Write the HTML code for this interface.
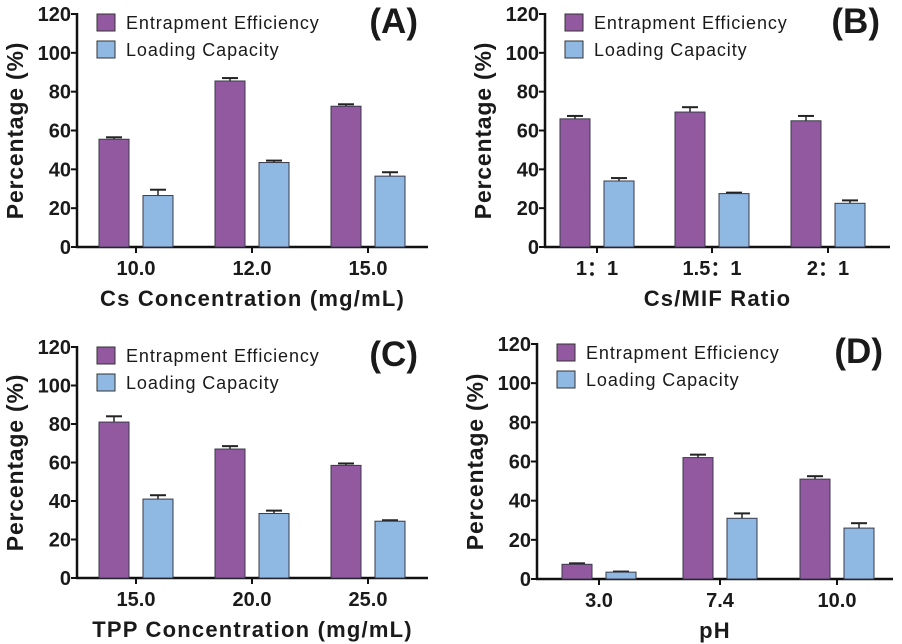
<!DOCTYPE html><html><head><style>body{margin:0;background:#fff}svg{display:block}text{font-family:"Liberation Sans",Arial,sans-serif;font-weight:bold;fill:#1a1a1a}</style></head><body>
<svg id="s" width="902" height="644" viewBox="0 0 902 644" xmlns="http://www.w3.org/2000/svg"></svg>
<script>
var P=[
{ox:77,y0:247,yt:14,t:[136,252,368],xe:428,lab:"(A)",xl:"Cs Concentration (mg/mL)",cats:["10.0","12.0","15.0"],ee:[[55.5,1],[85.5,1.5],[72.5,1]],lc:[[26.5,3],[43.5,1],[36.5,2]]},
{ox:545,y0:247,yt:14,t:[597,712,828],xe:890,lab:"(B)",xl:"Cs/MIF Ratio",cats:["1\uFF1A1","1.5\uFF1A1","2\uFF1A1"],ee:[[66,1.5],[69.5,2.5],[65,2.5]],lc:[[34,1.5],[27.5,0.5],[22.5,1.5]]},
{ox:77,y0:578,yt:347,t:[136,252,368],xe:428,lab:"(C)",xl:"TPP Concentration (mg/mL)",cats:["15.0","20.0","25.0"],ee:[[81,3],[67,1.5],[58.5,1]],lc:[[41,2],[33.5,1.5],[29.5,0.5]]},
{ox:537,y0:579,yt:344,t:[599,720,837],xe:893,lab:"(D)",xl:"pH",cats:["3.0","7.4","10.0"],ee:[[7.5,0.5],[62,1.5],[51,1.5]],lc:[[3.5,0.3],[31,2.5],[26,2.5]]}];
var h="";
P.forEach(function(p){
var sc=(p.y0-p.yt)/120;function Y(v){return p.y0-v*sc}
h+='<line x1="'+p.ox+'" y1="'+(p.yt-1)+'" x2="'+p.ox+'" y2="'+(p.y0+1)+'" stroke="#111" stroke-width="2.5"/>';
h+='<line x1="'+(p.ox-1)+'" y1="'+p.y0+'" x2="'+p.xe+'" y2="'+p.y0+'" stroke="#111" stroke-width="2.5"/>';
for(var v=0;v<=120;v+=20){var y=Y(v);h+='<line x1="'+(p.ox-6)+'" y1="'+y+'" x2="'+p.ox+'" y2="'+y+'" stroke="#111" stroke-width="2"/>';h+='<text x="'+(p.ox-6)+'" y="'+(y+7)+'" font-size="20" text-anchor="end">'+v+'</text>';}
p.t.forEach(function(x,i){
h+='<line x1="'+x+'" y1="'+p.y0+'" x2="'+x+'" y2="'+(p.y0+6)+'" stroke="#111" stroke-width="2"/>';
h+='<text x="'+x+'" y="'+(p.y0+28)+'" font-size="20" text-anchor="middle">'+p.cats[i]+'</text>';
[[p.ee[i],x-37,"#9359a0"],[p.lc[i],x+7,"#8fb8e3"]].forEach(function(b){
var v=b[0][0],e=b[0][1],yt=Y(v),ye=Y(v+e),cx=b[1]+15;
h+='<line x1="'+cx+'" y1="'+yt+'" x2="'+cx+'" y2="'+ye+'" stroke="#222" stroke-width="1.5"/><line x1="'+(cx-8)+'" y1="'+ye+'" x2="'+(cx+8)+'" y2="'+ye+'" stroke="#222" stroke-width="2"/>';
h+='<rect x="'+b[1]+'" y="'+yt+'" width="30" height="'+(p.y0-yt)+'" fill="'+b[2]+'" stroke="#3a3a4a" stroke-width="1"/>';});
});
var mx=(p.ox+p.xe)/2;
h+='<text x="'+mx+'" y="'+(p.y0+59)+'" font-size="22" letter-spacing="1.2" text-anchor="middle">'+p.xl+'</text>';
var cy=(p.y0+p.yt)/2,lx=p.ox-54;
h+='<text transform="translate('+lx+','+cy+') rotate(-90)" font-size="23" letter-spacing="0.8" text-anchor="middle">Percentage (%)</text>';
var lgx=p.ox+20,lgy=p.yt;
h+='<rect x="'+lgx+'" y="'+lgy+'" width="18" height="17" fill="#9359a0" stroke="#333"/><text x="'+(lgx+29)+'" y="'+(lgy+15)+'" font-size="18" letter-spacing="0.9" style="font-weight:normal">Entrapment Efficiency</text>';
h+='<rect x="'+lgx+'" y="'+(lgy+27)+'" width="18" height="17" fill="#8fb8e3" stroke="#333"/><text x="'+(lgx+29)+'" y="'+(lgy+42)+'" font-size="18" letter-spacing="0.9" style="font-weight:normal">Loading Capacity</text>';
h+='<text x="'+(p.xe-10)+'" y="'+(p.yt+19)+'" font-size="35" text-anchor="end">'+p.lab+'</text>';
});
document.getElementById("s").innerHTML=h;
</script></body></html>
